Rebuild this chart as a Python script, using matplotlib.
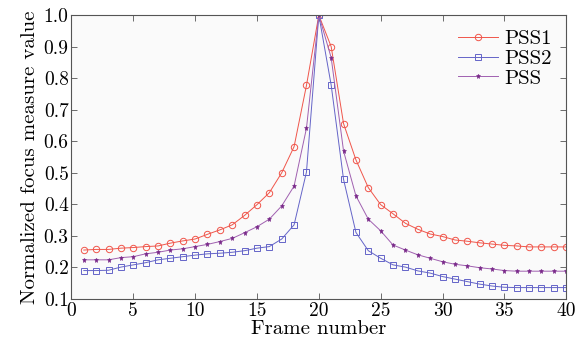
import numpy as np
import matplotlib
matplotlib.use("Agg")
import matplotlib.pyplot as plt

# data
frames = list(range(1, 41))
pss1 = [0.255, 0.257, 0.257, 0.261, 0.263, 0.266, 0.268, 0.277, 0.284, 0.290,
        0.305, 0.319, 0.335, 0.365, 0.399, 0.437, 0.500, 0.583, 0.777, 1.000,
        0.900, 0.656, 0.541, 0.453, 0.399, 0.370, 0.340, 0.321, 0.306, 0.298,
        0.287, 0.283, 0.278, 0.274, 0.270, 0.268, 0.265, 0.265, 0.265, 0.265]
pss2 = [0.190, 0.190, 0.191, 0.201, 0.208, 0.215, 0.224, 0.229, 0.234, 0.239,
        0.243, 0.245, 0.248, 0.253, 0.261, 0.266, 0.290, 0.335, 0.502, 1.000,
        0.778, 0.479, 0.311, 0.253, 0.229, 0.208, 0.201, 0.189, 0.182, 0.171,
        0.163, 0.155, 0.147, 0.141, 0.137, 0.136, 0.136, 0.136, 0.136, 0.136]
pss = [0.224, 0.224, 0.224, 0.231, 0.234, 0.243, 0.248, 0.255, 0.259, 0.266,
       0.273, 0.282, 0.292, 0.310, 0.329, 0.353, 0.395, 0.458, 0.641, 1.000,
       0.865, 0.569, 0.427, 0.353, 0.316, 0.271, 0.255, 0.240, 0.229, 0.218,
       0.210, 0.205, 0.199, 0.195, 0.190, 0.188, 0.188, 0.188, 0.188, 0.188]
x_ticks = [0, 5, 10, 15, 20, 25, 30, 35, 40]
y_ticks = [0.1, 0.2, 0.3, 0.4, 0.5, 0.6, 0.7, 0.8, 0.9, 1.0]

plt.rcParams["font.family"] = ["cmr10", "Liberation Serif", "DejaVu Serif"]
plt.rcParams["axes.formatter.use_mathtext"] = True

fig = plt.figure(figsize=(5.76, 3.44), dpi=100)
ax = fig.add_axes([0.124, 0.131, 0.859, 0.825])
ax.set_facecolor("#fafafa")

ax.plot(frames, pss1, color="#f0554a", lw=0.7, marker="o", ms=4.6,
        mfc="none", mec="#f0554a", mew=0.7, label="PSS1")
ax.plot(frames, pss2, color="#6464c8", lw=0.7, marker="s", ms=4.2,
        mfc="none", mec="#6464c8", mew=0.7, label="PSS2")
ax.plot(frames, pss, color="#a060b0", lw=0.7, marker="*", ms=3.6,
        mfc="#7a2a8a", mec="#7a2a8a", mew=0.4, label="PSS")

ax.set_xlim(0, 40)
ax.set_ylim(0.1, 1.0)
ax.set_xticks(x_ticks)
ax.set_xticklabels([str(t) for t in x_ticks])
ax.set_yticks(y_ticks)
ax.set_yticklabels([f"{t:.1f}" for t in y_ticks])
ax.tick_params(direction="in", top=True, right=True, labelsize=14,
               length=4, width=0.6, color="#555555", pad=2)
for s in ax.spines.values():
    s.set_color("#555555")
    s.set_linewidth(0.8)

ax.set_xlabel("Frame number", fontsize=15, labelpad=0)
ax.set_ylabel("Normalized focus measure value", fontsize=15, labelpad=3)

ax.legend(loc="upper right", frameon=False, fontsize=15, handlelength=1.9,
          handletextpad=0.3, labelspacing=0.05, borderaxespad=0.3)

fig.savefig("out.png", dpi=100)
